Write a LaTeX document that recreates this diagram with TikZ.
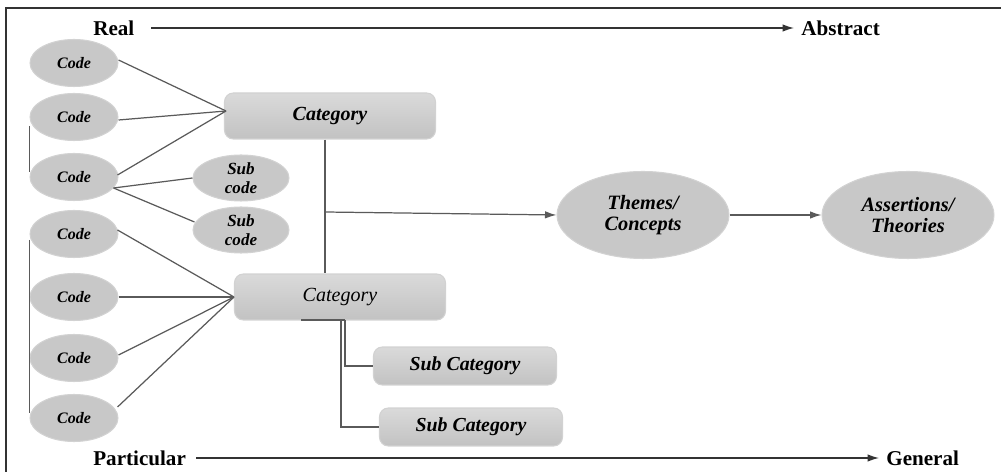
\documentclass[tikz,border=0pt]{standalone}
\usepackage{fontspec}
\setmainfont{Liberation Serif}
\usetikzlibrary{arrows.meta,shapes.geometric,calc}
\definecolor{fillgray}{HTML}{C8C8C8}
\definecolor{edgegray}{HTML}{D2D2D2}
\definecolor{boxtop}{HTML}{DADADA}
\definecolor{boxbot}{HTML}{C2C2C2}
\definecolor{linegray}{HTML}{5A5A5A}
\definecolor{darkline}{HTML}{333333}
\tikzset{
  codenode/.style={ellipse, fill=fillgray, draw=edgegray, line width=0.6pt,
    minimum width=1.76cm, minimum height=0.94cm, inner sep=0pt,
    font=\fontsize{9.1}{10}\selectfont\bfseries\itshape},
  subcode/.style={ellipse, fill=fillgray, draw=edgegray, line width=0.6pt,
    minimum width=1.92cm, minimum height=0.92cm, inner sep=0pt, align=center,
    font=\fontsize{9.7}{10.5}\selectfont\bfseries\itshape},
  catbox/.style={rectangle, rounded corners=5pt, top color=boxtop, bottom color=boxbot,
    draw=edgegray, line width=0.6pt, minimum width=4.22cm, minimum height=0.92cm, inner sep=0pt},
  subcat/.style={rectangle, rounded corners=5pt, top color=boxtop, bottom color=boxbot,
    draw=edgegray, line width=0.6pt, minimum width=3.66cm, minimum height=0.76cm, inner sep=0pt,
    font=\fontsize{11.3}{12}\selectfont\bfseries\itshape},
  bigell/.style={ellipse, fill=fillgray, draw=edgegray, line width=0.6pt,
    minimum width=3.44cm, minimum height=1.74cm, inner sep=0pt, align=center,
    font=\fontsize{11.6}{12.2}\selectfont\bfseries\itshape},
  axislabel/.style={font=\fontsize{12}{13}\selectfont\bfseries, inner sep=0pt},
  conn/.style={draw=linegray, line width=0.7pt},
  arr/.style={draw=darkline, line width=0.7pt, -{Latex[length=2.3mm,width=1.5mm]}},
}
\begin{document}
\begin{tikzpicture}[x=0.02cm,y=-0.02cm]
\useasboundingbox (0,0) rectangle (1001,472);
% frame (top and left visible)
\draw[darkline, line width=1pt] (6,472) -- (6,8) -- (1001,8);

% axis labels
\node[axislabel, anchor=west] (real) at (93,28) {Real};
\node[axislabel, anchor=west] (abstract) at (801,28) {Abstract};
\node[axislabel, anchor=west] (particular) at (93,458) {Particular};
\node[axislabel, anchor=west] (general) at (886,458) {General};
\coordinate (r1) at (151,28);
\coordinate (r2) at (794,28);
\coordinate (p1) at (196,458);
\coordinate (p2) at (879,458);
\draw[arr] (r1) -- (r2);
\draw[arr] (p1) -- (p2);

% codes
\node[codenode] (c1) at (74,63) {Code};
\node[codenode] (c2) at (74,117) {Code};
\node[codenode] (c3) at (74,177) {Code};
\node[codenode] (c4) at (74,234) {Code};
\node[codenode] (c5) at (74,297) {Code};
\node[codenode] (c6) at (74,358) {Code};
\node[codenode] (c7) at (74,418) {Code};

% sub codes
\node[subcode] (s1) at (241,178) {Sub\\code};
\node[subcode] (s2) at (241,230) {Sub\\code};

% categories
\node[catbox, font=\fontsize{11.4}{12}\selectfont\bfseries\itshape] (cat1) at (330,116) {Category};
\node[catbox, font=\fontsize{11.4}{12}\selectfont\itshape] (cat2) at (340,297) {Category};

% sub categories
\node[subcat] (sc1) at (465,366) {Sub Category};
\node[subcat] (sc2) at (471,427) {Sub Category};

% themes, assertions
\node[bigell] (th) at (643,215) {Themes/\\Concepts};
\node[bigell] (as) at (908,215) {Assertions/\\Theories};

% code -> category 1
\coordinate (k1) at (226,111);
\draw[conn] ($(c1.east)+(0,-3)$) -- (k1);
\draw[conn] ($(c2.east)+(0,3)$) -- (k1);
\draw[conn] ($(c3.east)+(-1,-2)$) -- (k1);
% code 3 -> sub codes
\coordinate (k3) at ($(c3.east)+(-5,11)$);
\draw[conn] (k3) -- (s1.west);
\draw[conn] (k3) -- ($(s2.west)+(2,-8)$);
% left brackets
\draw[conn] ($(c2.west)+(0,9)$) -- ($(c3.west)+(0,-5)$);
\draw[conn] ($(c4.west)+(0,6)$) -- ($(c7.west)+(0,-5)$);

% codes -> category 2
\draw[conn] ($(c4.east)+(-1,-4)$) -- (cat2.west);
\draw[conn] (c5.east) -- (cat2.west);
\draw[conn] ($(c6.east)+(0,-3)$) -- (cat2.west);
\draw[conn] ($(c7.east)+(-1,-11)$) -- (cat2.west);

% category1 - category2 and arrow to themes
\coordinate (j1) at (325,212);
\draw[conn] (cat1.south -| j1) -- (cat2.north -| j1);
\draw[arr, draw=linegray] (j1) -- (th.west);
\draw[arr, draw=linegray] (th.east) -- (as.west);

% category 2 -> sub categories
\coordinate (b1) at (301,320);
\coordinate (b2) at (345,320);
\coordinate (b3) at (341,320);
\draw[draw=linegray, line width=1.4pt] (b1) -- (b2);
\draw[conn] (b2) |- (sc1.west);
\draw[conn] (b3) |- (sc2.west);
\end{tikzpicture}
\end{document}
